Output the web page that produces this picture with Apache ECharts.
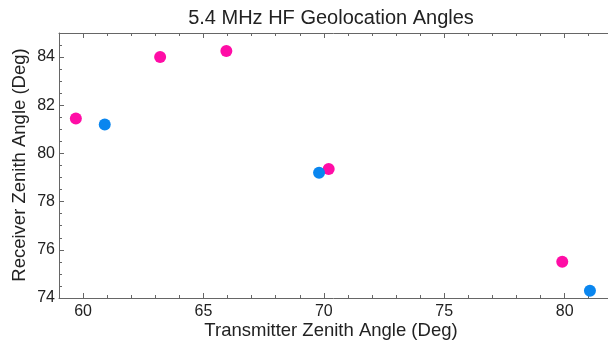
<!DOCTYPE html>
<html>
<head>
<meta charset="utf-8">
<script src="https://cdn.jsdelivr.net/npm/echarts@6/dist/echarts.min.js"></script>
<style>
  html, body { margin: 0; padding: 0; background: #fff; }
  #chart { width: 608px; height: 345px; }
</style>
</head>
<body>
<div id="chart"></div>
<script>
// points: [transmitter angle, receiver angle]
var pinkPoints = [[59.7, 81.45], [63.2, 84.0], [65.95, 84.25], [70.2, 79.35], [79.9, 75.5]];
var bluePoints = [[60.9, 81.2], [69.8, 79.2], [81.05, 74.3]];
var xMajorTicks = [60, 65, 70, 75, 80];
var xMinorTicks = [59, 61, 62, 63, 64, 66, 67, 68, 69, 71, 72, 73, 74, 76, 77, 78, 79, 81];

var chart = echarts.init(document.getElementById('chart'));
var font = 'Liberation Sans, Arial, sans-serif';
var axisColor = '#666';

function xAxisOf(pos, ticks, len, showLabel, showLine) {
    return {
        type: 'value',
        position: pos,
        min: 59,
        max: 81.8,
        splitLine: { show: false },
        axisLine: { show: showLine, onZero: false, lineStyle: { color: axisColor, width: 1 } },
        axisTick: { show: true, inside: true, length: len, customValues: ticks, lineStyle: { color: axisColor } },
        axisLabel: {
            show: showLabel,
            customValues: xMajorTicks,
            color: '#222',
            fontFamily: font,
            fontSize: 16,
            margin: 6
        }
    };
}

var options = {
    animation: false,
    grid: { left: 59, right: 0, top: 33, bottom: 47 },
    graphic: [
        {
            type: 'text', x: 331, y: 18,
            style: { text: '5.4 MHz HF Geolocation Angles', font: '20px ' + font, fill: '#222', textAlign: 'center', textVerticalAlign: 'middle' }
        },
        {
            type: 'text', x: 331, y: 331,
            style: { text: 'Transmitter Zenith Angle (Deg)', font: '18.5px ' + font, fill: '#222', textAlign: 'center', textVerticalAlign: 'middle' }
        },
        {
            type: 'text', x: 20, y: 165, rotation: Math.PI / 2,
            style: { text: 'Receiver Zenith Angle (Deg)', font: '18.5px ' + font, fill: '#222', textAlign: 'center', textVerticalAlign: 'middle' }
        }
    ],
    xAxis: [
        xAxisOf('bottom', xMajorTicks, 5, true, true),
        xAxisOf('bottom', xMinorTicks, 3, false, false),
        xAxisOf('top', xMajorTicks, 5, false, true),
        xAxisOf('top', xMinorTicks, 3, false, false)
    ],
    yAxis: {
        type: 'value',
        min: 74,
        max: 85,
        interval: 2,
        splitLine: { show: false },
        axisLine: { show: true, lineStyle: { color: axisColor, width: 1 } },
        axisTick: { inside: true, length: 5, lineStyle: { color: axisColor } },
        minorTick: { show: true, splitNumber: 4, length: 3, lineStyle: { color: axisColor } },
        axisLabel: { color: '#222', fontFamily: font, fontSize: 16, margin: 4, showMaxLabel: false }
    },
    series: [
        {
            type: 'scatter',
            data: pinkPoints,
            symbolSize: 12,
            itemStyle: { color: '#ff0da6', opacity: 1 }
        },
        {
            type: 'scatter',
            data: bluePoints,
            symbolSize: 12,
            itemStyle: { color: '#0a86ef', opacity: 1 }
        }
    ]
};
chart.setOption(options);
</script>
</body>
</html>
